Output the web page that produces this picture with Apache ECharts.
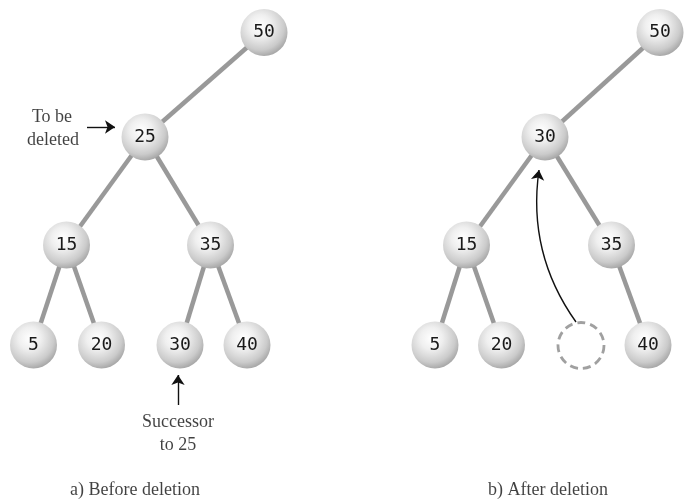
<!DOCTYPE html>
<html>
<head>
<meta charset="utf-8">
<script src="https://cdn.jsdelivr.net/npm/echarts@6/dist/echarts.min.js"></script>
<style>
html,body{margin:0;padding:0;background:#fff;}
#chart{width:684px;height:501px;}
</style>
</head>
<body>
<div id="chart"></div>
<script>
// ---- Data (positions in diagram units; axes map 1 unit to 1 px) ----
// Tree a) before deletion
const leftNodes = ['50', '25', '15', '35', '5', '20', '30', '40'];
const leftX = [264, 145, 66.5, 210.5, 33.5, 101.5, 180, 247];
const leftY = [32.5, 137, 245, 245, 345, 345, 345, 345];
const leftEdges = [['50', '25'], ['25', '15'], ['25', '35'], ['15', '5'], ['15', '20'], ['35', '30'], ['35', '40']];

// Tree b) after deletion
const rightNodes = ['50', '30', '15', '35', '5', '20', '40'];
const rightX = [660, 545, 466.5, 611.5, 435, 501.5, 648];
const rightY = [32.5, 137, 245, 245, 345, 345, 345];
const rightEdges = [['50', '30'], ['30', '15'], ['30', '35'], ['15', '5'], ['15', '20'], ['35', '40']];

// Empty slot where 30 was removed
const emptySlot = [581, 345.5];

// Annotation texts
const noteText = ['To be', 'deleted', 'Successor', 'to 25', 'a) Before deletion', 'b) After deletion'];
const noteX = [52, 53, 178, 178, 135, 548];
const noteY = [117, 140, 422, 445, 490, 490];

// Straight arrows [from, to]
const straightArrows = [
  [[87, 127], [115, 127]],
  [[178, 405], [178, 375]]
];
// Curved arrow (moving 30 up)
const curvedArrow = [[576, 322], [539, 170]];

// ---- Chart ----
const sphere = {
  type: 'radial', x: 0.42, y: 0.36, r: 0.68,
  colorStops: [
    {offset: 0, color: '#ffffff'},
    {offset: 0.35, color: '#efefef'},
    {offset: 0.75, color: '#cbcbcb'},
    {offset: 1, color: '#a0a0a0'}
  ]
};

function treeSeries(names, xs, ys, edges) {
  return {
    type: 'graph',
    coordinateSystem: 'cartesian2d',
    silent: true,
    symbol: 'circle',
    symbolSize: 47,
    z: 3,
    itemStyle: {color: sphere},
    label: {
      show: true, position: 'inside',
      fontFamily: 'DejaVu Sans Mono', fontSize: 18, color: '#1a1a1a',
      formatter: p => p.name
    },
    lineStyle: {color: '#999', width: 4.5, opacity: 1, curveness: 0},
    data: names.map((n, i) => ({name: n, value: [xs[i], ys[i]]})),
    links: edges.map(e => ({source: e[0], target: e[1]}))
  };
}

const chart = echarts.init(document.getElementById('chart'), null, {renderer: 'canvas'});
chart.setOption({
  animation: false,
  backgroundColor: '#fff',
  grid: {left: 0, right: 0, top: 0, bottom: 0},
  xAxis: {type: 'value', min: 0, max: 684, show: false},
  yAxis: {type: 'value', min: 0, max: 501, inverse: true, show: false},
  series: [
    treeSeries(leftNodes, leftX, leftY, leftEdges),
    treeSeries(rightNodes, rightX, rightY, rightEdges),
    {
      type: 'scatter', silent: true, z: 2,
      symbol: 'circle', symbolSize: 46,
      itemStyle: {color: 'rgba(0,0,0,0)', borderColor: '#888', borderWidth: 2.8, borderType: [8, 5]},
      data: [emptySlot]
    },
    {
      type: 'lines', coordinateSystem: 'cartesian2d', silent: true, z: 4,
      symbol: ['none', 'arrow'], symbolSize: 10,
      lineStyle: {color: '#111', width: 1.4, opacity: 1},
      data: straightArrows.map(c => ({coords: c}))
    },
    {
      type: 'lines', coordinateSystem: 'cartesian2d', silent: true, z: 4,
      symbol: ['none', 'arrow'], symbolSize: 10,
      lineStyle: {color: '#111', width: 1.4, opacity: 1, curveness: 0.2},
      data: [{coords: curvedArrow}]
    },
    {
      type: 'scatter', silent: true, z: 5,
      symbol: 'circle', symbolSize: 1,
      itemStyle: {color: 'rgba(0,0,0,0)'},
      label: {
        show: true, position: 'inside',
        fontFamily: 'Liberation Serif', fontSize: 18, color: '#111',
        formatter: p => p.name
      },
      labelLayout: {hideOverlap: false},
      data: noteText.map((t, i) => ({name: t, value: [noteX[i], noteY[i]]}))
    }
  ]
});
</script>
</body>
</html>
